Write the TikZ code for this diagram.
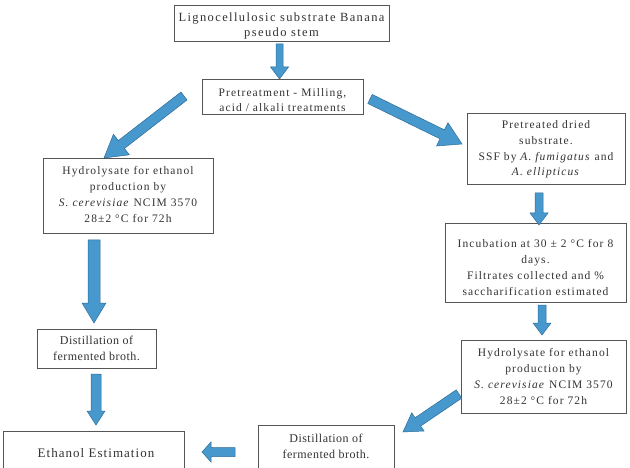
\documentclass[tikz,border=0pt]{standalone}
\usepackage{fontspec}
\setmainfont{Liberation Serif}
\newfontfamily\fA{Liberation Serif}[LetterSpace=9.5]
\newfontfamily\fB{Liberation Serif}[LetterSpace=11]
\newfontfamily\fC{Liberation Serif}[LetterSpace=4]
\newfontfamily\fD{Liberation Serif}[LetterSpace=8]
\usetikzlibrary{calc}
\definecolor{arrowblue}{HTML}{4798CC}
\definecolor{arrowedge}{HTML}{2D6C99}
\definecolor{boxedge}{HTML}{555555}
\definecolor{txt}{HTML}{333333}
\tikzset{
  box/.style={draw=boxedge, line width=0.7pt, fill=white, inner sep=0pt},
  lbl/.style={inner sep=0pt, align=center, text=txt, font=\fA\fontsize{11.5}{15.8}\selectfont},
  blockarrow/.style={fill=arrowblue, draw=arrowedge, line width=0.5pt, line join=miter},
}
% #1 start, #2 tip, #3 shaft half width, #4 head half width, #5 head length
\newcommand\barrow[5]{%
  \coordinate (ba-h) at ($(#2)!#5!(#1)$);
  \filldraw[blockarrow] ($(#1)!#3!90:(#2)$) -- ($(ba-h)!#3!-90:(#1)$)
    -- ($(ba-h)!#4!-90:(#1)$) -- (#2) -- ($(ba-h)!#4!90:(#1)$)
    -- ($(ba-h)!#3!90:(#1)$) -- ($(#1)!#3!-90:(#2)$) -- cycle;}
\begin{document}
\begin{tikzpicture}[x=1pt,y=-1pt]
\useasboundingbox (0,0) rectangle (630,468);
\clip (0,0) rectangle (630,468);
% boxes
\node[box, minimum width=215pt, minimum height=36pt] (src) at (281.5,23) {};
\node[lbl, font=\fB\fontsize{12.5}{15.8}\selectfont] (src-t) at ($(src)+(0,3)$)
  {Lignocellulosic substrate Banana\\pseudo stem};
\node[box, minimum width=161pt, minimum height=35pt] (pre) at (282.5,96.5) {};
\node[lbl] (pre-t) at ($(pre)+(0,3.5)$)
  {Pretreatment - Milling,\\acid / alkali treatments};
\node[box, minimum width=170pt, minimum height=75pt] (hydL) at (128,195.5) {};
\node[lbl] (hydL-t) at ($(hydL)+(0,-1)$)
  {Hydrolysate for ethanol\\production by\\\textit{S. cerevisiae} NCIM 3570\\28±2 °C for 72h};
\node[box, minimum width=158pt, minimum height=71pt] (dried) at (546,148.5) {};
\node[lbl] (dried-t) at ($(dried)+(0,1)$)
  {Pretreated dried\\substrate.\\SSF by \textit{A. fumigatus} and\\\textit{A. ellipticus}};
\node[box, minimum width=181pt, minimum height=79pt] (inc) at (535.5,262.5) {};
\node[lbl] (inc-t) at ($(inc)+(0,5)$)
  {Incubation at 30 ± 2 °C for 8\\days.\\Filtrates collected and \%\\saccharification estimated};
\node[box, minimum width=165pt, minimum height=73pt] (hydR) at (543.5,376.5) {};
\node[lbl] (hydR-t) at ($(hydR)+(0,0)$)
  {Hydrolysate for ethanol\\production by\\\textit{S. cerevisiae} NCIM 3570\\28±2 °C for 72h};
\node[box, minimum width=119pt, minimum height=39pt] (distL) at (96.5,348.5) {};
\node[lbl, font=\fC\fontsize{12}{15.8}\selectfont] (distL-t) at ($(distL)+(0,0)$)
  {Distillation of\\fermented broth.};
\node[box, minimum width=136pt, minimum height=43pt] (distR) at (326,446.5) {};
\node[lbl, font=\fC\fontsize{12}{15.8}\selectfont] (distR-t) at ($(distR)+(0,-0.5)$)
  {Distillation of\\fermented broth.};
\node[box, minimum width=181pt, minimum height=44pt] (eth) at (93.5,453) {};
\node[lbl, font=\fD\fontsize{13}{16}\selectfont] (eth-t) at ($(eth)+(2.5,0.5)$)
  {Ethanol Estimation};
% arrow end points
\coordinate (a1s) at (279.5,44);   \coordinate (a1e) at (279.5,79);
\coordinate (a2s) at (184,96);     \coordinate (a2e) at (104,158);
\coordinate (a3s) at (370,99);     \coordinate (a3e) at (462,144);
\coordinate (a4s) at (539,193);    \coordinate (a4e) at (539,225);
\coordinate (a5s) at (542,305);    \coordinate (a5e) at (542,335);
\coordinate (a6s) at (94,240);     \coordinate (a6e) at (94,323);
\coordinate (a7s) at (96,374);     \coordinate (a7e) at (96,425);
\coordinate (a8s) at (459,394);    \coordinate (a8e) at (403,432);
\coordinate (a9s) at (235,452);    \coordinate (a9e) at (202,452);
% arrows
\barrow{a1s}{a1e}{3.5pt}{9pt}{12pt}
\barrow{a2s}{a2e}{5pt}{13pt}{22pt}
\barrow{a3s}{a3e}{5pt}{13pt}{22pt}
\barrow{a4s}{a4e}{4pt}{9pt}{12pt}
\barrow{a5s}{a5e}{4pt}{9pt}{12pt}
\barrow{a6s}{a6e}{6pt}{12pt}{20pt}
\barrow{a7s}{a7e}{5pt}{9pt}{14pt}
\barrow{a8s}{a8e}{5pt}{11pt}{18pt}
\barrow{a9s}{a9e}{4.5pt}{10pt}{9pt}
\end{tikzpicture}
\end{document}
